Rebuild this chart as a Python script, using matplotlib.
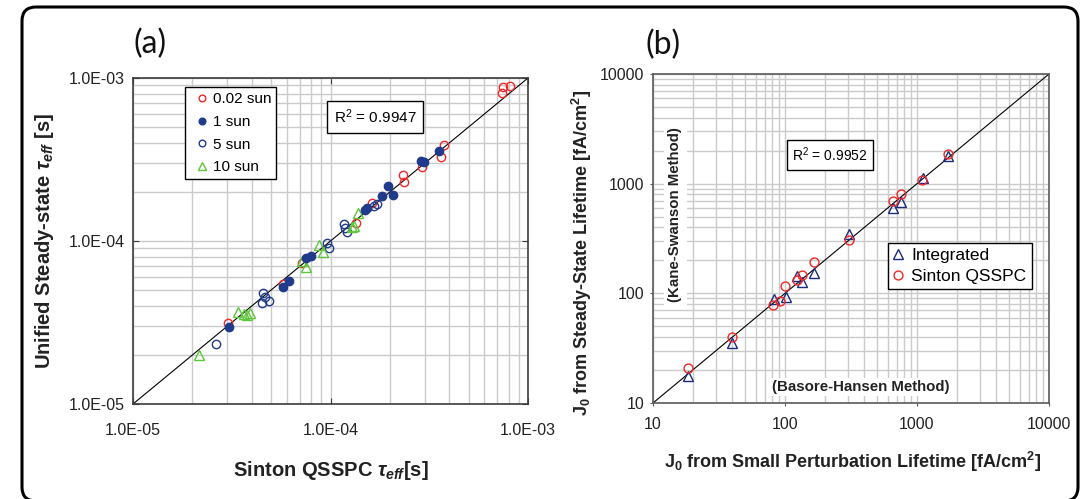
import matplotlib
matplotlib.use('Agg')
import matplotlib.pyplot as plt
import matplotlib.ticker as mticker
import matplotlib.patches as mpatches
from matplotlib.transforms import IdentityTransform

plt.rcParams['font.family'] = ['Liberation Sans', 'DejaVu Sans']
plt.rcParams['mathtext.fontset'] = 'custom'
plt.rcParams['mathtext.rm'] = 'Liberation Sans'
plt.rcParams['mathtext.it'] = 'Liberation Sans:italic:bold'
plt.rcParams['mathtext.bf'] = 'Liberation Sans:bold'
plt.rcParams['mathtext.default'] = 'regular'

# ---- (a) effective lifetimes [s]: Sinton QSSPC (x) vs unified steady-state (y)
sun002_x = [3.04e-5, 5.77e-5, 7.15e-5, 1.34e-4, 1.62e-4, 2.34e-4, 2.36e-4,
            2.92e-4, 3.62e-4, 3.77e-4, 7.36e-4, 7.45e-4, 8.11e-4]
sun002_y = [3.13e-5, 5.42e-5, 7.35e-5, 1.29e-4, 1.70e-4, 2.54e-4, 2.31e-4,
            2.83e-4, 3.26e-4, 3.88e-4, 8.05e-4, 8.85e-4, 8.97e-4]

sun1_x = [3.06e-5, 5.77e-5, 6.18e-5, 7.52e-5, 7.97e-5, 1.50e-4, 1.53e-4,
          1.83e-4, 1.95e-4, 2.08e-4, 2.86e-4, 2.98e-4, 3.53e-4]
sun1_y = [2.98e-5, 5.25e-5, 5.69e-5, 7.91e-5, 8.09e-5, 1.56e-4, 1.60e-4,
          1.89e-4, 2.17e-4, 1.91e-4, 3.11e-4, 3.04e-4, 3.58e-4]

sun5_x = [2.62e-5, 4.57e-5, 4.65e-5, 4.49e-5, 4.90e-5, 9.57e-5, 9.82e-5,
          1.17e-4, 1.18e-4, 1.21e-4, 1.66e-4, 1.71e-4]
sun5_y = [2.33e-5, 4.77e-5, 4.52e-5, 4.15e-5, 4.28e-5, 9.68e-5, 9.02e-5,
          1.27e-4, 1.21e-4, 1.13e-4, 1.63e-4, 1.69e-4]

sun10_x = [2.16e-5, 3.39e-5, 3.65e-5, 3.77e-5, 3.91e-5, 7.15e-5, 7.52e-5,
           8.77e-5, 9.12e-5, 1.29e-4, 1.32e-4, 1.38e-4]
sun10_y = [2.00e-5, 3.68e-5, 3.55e-5, 3.52e-5, 3.63e-5, 7.53e-5, 6.90e-5,
           9.44e-5, 8.59e-5, 1.22e-4, 1.24e-4, 1.48e-4]

series_labels_a = ['0.02 sun', '1 sun', '5 sun', '10 sun']
r2_a = 0.9947
lim_a = [1e-5, 1e-3]

# ---- (b) J0 [fA/cm2]: small perturbation (x) vs steady-state (y)
integ_x = [18.5, 39.4, 83, 101, 124, 135, 167, 305, 655, 757, 1104, 1727]
integ_y = [17.7, 35.6, 89, 91.8, 145, 126, 152, 349, 600, 680, 1115, 1782]

sinton_x = [18.5, 39.4, 81.6, 91.6, 100, 123, 134, 167, 305, 655, 757, 1084, 1727]
sinton_y = [20.8, 40.2, 78.9, 84.6, 116, 131, 148, 192, 308, 690, 800, 1074, 1857]

series_labels_b = ['Integrated', 'Sinton QSSPC']
r2_b = 0.9952
lim_b = [10, 10000]

RED = '#f02828'
NAVY = '#203a8c'
GREEN = '#5cc63c'
NAVY_B = '#1c2a7e'
GRID = '#cbcbcb'

W, H = 1083, 499
fig = plt.figure(figsize=(W / 100, H / 100), dpi=100)


def px_axes(left, top, right, bottom):
    return fig.add_axes([left / W, 1 - bottom / H, (right - left) / W, (bottom - top) / H])


def style_log_axes(ax, lim, spine_color):
    ax.set_xscale('log')
    ax.set_yscale('log')
    ax.set_xlim(lim)
    ax.set_ylim(lim)
    for a in (ax.xaxis, ax.yaxis):
        a.set_major_locator(mticker.LogLocator(base=10, numticks=10))
        a.set_minor_locator(mticker.LogLocator(base=10, subs=range(2, 10), numticks=10))
        a.set_minor_formatter(mticker.NullFormatter())
    ax.grid(which='both', color=GRID, lw=1.0)
    ax.set_axisbelow(True)
    for s in ax.spines.values():
        s.set_color(spine_color)
        s.set_linewidth(1.2)
    ax.plot(lim, lim, color='black', lw=0.8, zorder=2)


# ------------------------------------------------------------------ (a)
axa = px_axes(133, 78, 528, 404)
style_log_axes(axa, lim_a, '#3c3c3c')
sci = mticker.FuncFormatter(lambda v, p: f'{v:.1E}')
axa.xaxis.set_major_formatter(sci)
axa.yaxis.set_major_formatter(sci)
axa.tick_params(which='major', direction='in', length=4, top=True, right=True,
                color='#3c3c3c', labelsize=11.5, labelcolor='#222222')
axa.tick_params(axis='y', which='major', pad=5.8)
axa.tick_params(axis='x', which='major', pad=13.5)
axa.tick_params(which='minor', length=0)

ms = 6.0
axa.plot(sun002_x, sun002_y, ls='none', marker='o', ms=ms, mfc='none', mec=RED,
         mew=1.0, label=series_labels_a[0], zorder=3)
axa.plot(sun1_x, sun1_y, ls='none', marker='o', ms=ms, mfc=NAVY, mec=NAVY,
         mew=1.0, label=series_labels_a[1], zorder=4)
axa.plot(sun5_x, sun5_y, ls='none', marker='o', ms=ms, mfc='none', mec=NAVY,
         mew=1.0, label=series_labels_a[2], zorder=3)
axa.plot(sun10_x, sun10_y, ls='none', marker='^', ms=ms + 0.6, mfc='none', mec=GREEN,
         mew=1.0, label=series_labels_a[3], zorder=3)

leg_a = axa.legend(loc='upper left', bbox_to_anchor=(0.131, 0.972), fontsize=11,
                   frameon=True, fancybox=False, edgecolor='black', framealpha=1,
                   markerscale=0.8, handlelength=1.6, handletextpad=-0.13,
                   labelspacing=0.56, borderpad=0.35, borderaxespad=0)
leg_a.get_frame().set_linewidth(1.0)
leg_a.set_zorder(6)

axa.text(0.613, 0.880, f'R$^2$ = {r2_a:.4f}', transform=axa.transAxes, fontsize=11,
         ha='center', va='center', zorder=6,
         bbox=dict(boxstyle='square,pad=0.42', fc='white', ec='black', lw=1.0))

axa.set_xlabel(r'Sinton QSSPC $\mathit{\tau}_{\mathit{eff}}$[s]', fontsize=14.5,
               fontweight='bold', color='#222222')
axa.xaxis.label.set_verticalalignment('center')
axa.xaxis.set_label_coords(0.5, -0.2025)
axa.set_ylabel(r'Unified Steady-state $\mathit{\tau}_{\mathit{eff}}$ [s]', fontsize=14.5,
               fontweight='bold', color='#222222')
axa.yaxis.label.set_verticalalignment('center')
axa.yaxis.set_label_coords(-0.2228, 0.5)

# ------------------------------------------------------------------ (b)
axb = px_axes(653, 74, 1049, 403)
style_log_axes(axb, lim_b, '#5a5a5a')
axb.xaxis.set_major_formatter(mticker.FuncFormatter(lambda v, p: f'{v:.0f}'))
axb.yaxis.set_major_formatter(mticker.FuncFormatter(lambda v, p: f'{v:.0f}'))
axb.tick_params(which='major', direction='out', length=2.4, color='#5a5a5a',
                labelsize=11.5, labelcolor='#222222')
axb.tick_params(axis='y', which='major', pad=3.8)
axb.tick_params(axis='x', which='major', pad=8.0)
axb.tick_params(which='minor', length=0)

msb = 6.4
axb.plot(integ_x, integ_y, ls='none', marker='^', ms=msb + 0.4, mfc='none', mec=NAVY_B,
         mew=1.0, label=series_labels_b[0], zorder=3)
axb.plot(sinton_x, sinton_y, ls='none', marker='o', ms=msb, mfc='none', mec=RED,
         mew=1.0, label=series_labels_b[1], zorder=4)

leg_b = axb.legend(loc='upper left', bbox_to_anchor=(0.593, 0.486), fontsize=12.5,
                   frameon=True, fancybox=False, edgecolor='black', framealpha=1,
                   handlelength=0.6, handletextpad=0.45, labelspacing=0.3,
                   borderpad=0.3, borderaxespad=0)
leg_b.get_frame().set_linewidth(1.0)
leg_b.set_zorder(6)

axb.text(0.447, 0.754, f'R$^2$ = {r2_b:.4f}', transform=axb.transAxes, fontsize=10,
         ha='center', va='center', zorder=6,
         bbox=dict(boxstyle='square,pad=0.4', fc='white', ec='black', lw=1.0))

axb.text(0.0556, 0.574, '(Kane-Swanson Method)', transform=axb.transAxes,
         rotation=90, fontsize=10.8, fontweight='bold', color='#222222',
         ha='center', va='center', zorder=5,
         bbox=dict(boxstyle='square,pad=0.3', fc='white', ec='none'))
axb.text(0.525, 0.049, '(Basore-Hansen Method)', transform=axb.transAxes,
         fontsize=10.8, fontweight='bold', color='#222222',
         ha='center', va='center', zorder=5,
         bbox=dict(boxstyle='square,pad=0.15', fc='white', ec='none'))

axb.set_xlabel(r'J$_0$ from Small Perturbation Lifetime [fA/cm$^2$]', fontsize=13,
               fontweight='bold', color='#222222')
axb.xaxis.label.set_verticalalignment('center')
axb.xaxis.set_label_coords(0.505, -0.179)
axb.set_ylabel(r'J$_0$ from Steady-State Lifetime [fA/cm$^2$]', fontsize=13,
               fontweight='bold', color='#222222')
axb.yaxis.label.set_verticalalignment('center')
axb.yaxis.set_label_coords(-0.179, 0.456)

# panel tags
fig.text(150 / W, 1 - 44 / H, '(a)', fontsize=23, family=['Lato', 'DejaVu Sans'],
         ha='center', va='center', color='#111111')
fig.text(663 / W, 1 - 45 / H, '(b)', fontsize=23, family=['Lato', 'DejaVu Sans'],
         ha='center', va='center', color='#111111')

# rounded outer frame
frame = mpatches.FancyBboxPatch((22, -2), 1056, 494,
                                boxstyle='round,pad=0,rounding_size=14',
                                transform=IdentityTransform(), fill=False,
                                ec='black', lw=2.2)
fig.add_artist(frame)

fig.savefig('out.png', dpi=100)
